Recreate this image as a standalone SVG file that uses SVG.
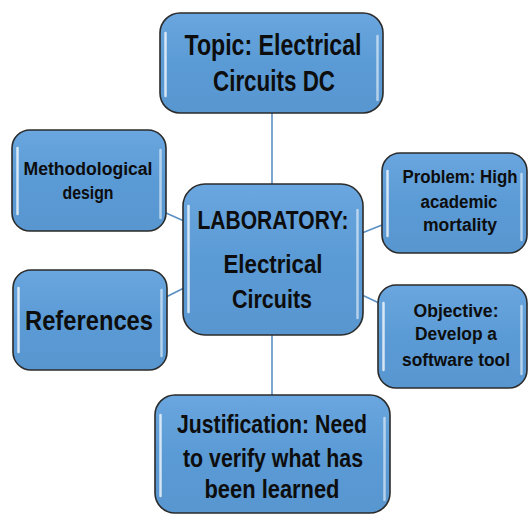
<svg xmlns="http://www.w3.org/2000/svg" width="528" height="514" viewBox="0 0 528 514">
  <style>
    .box { fill: url(#boxFill); stroke: #2b2b2b; stroke-width: 1.6; }
    .gloss { fill: none; stroke: #ffffff; stroke-opacity: 0.75; stroke-width: 2.5; stroke-linecap: round; }
    .gloss.r { stroke-opacity: 0.55; }
    .lbl { font-family: "Liberation Sans", Arial, sans-serif; font-weight: bold; fill: #0d0d0d; text-anchor: middle; }
    .edge { stroke: #5b8fc4; stroke-width: 1.6; fill: none; }
  </style>
  <defs>
    <linearGradient id="boxFill" x1="0" y1="0" x2="0" y2="1">
      <stop offset="0" stop-color="#6aa6df"/>
      <stop offset="0.5" stop-color="#5b9bd5"/>
      <stop offset="1" stop-color="#5896d0"/>
    </linearGradient>
  </defs>

  <!-- connectors -->
  <g id="connectors">
    <line class="edge" x1="272" y1="113" x2="272" y2="184"/>
    <line class="edge" x1="166" y1="213" x2="184" y2="221"/>
    <line class="edge" x1="166" y1="297" x2="184" y2="288"/>
    <line class="edge" x1="362" y1="233" x2="382" y2="225"/>
    <line class="edge" x1="362" y1="295" x2="379" y2="303"/>
    <line class="edge" x1="272" y1="335" x2="272" y2="395"/>
  </g>

  <!-- topic -->
  <g id="topic">
    <rect class="box" x="160" y="13" width="223" height="100" rx="20"/>
    <path class="gloss" d="M165.5 33 V96"/>
    <path class="gloss r" d="M377.5 36 V100"/>
    <text class="lbl" font-size="29" x="273" y="55" textLength="177" lengthAdjust="spacingAndGlyphs">Topic: Electrical</text>
    <text class="lbl" font-size="29" x="274" y="91" textLength="122" lengthAdjust="spacingAndGlyphs">Circuits DC</text>
  </g>

  <!-- methodological design -->
  <g id="method">
    <rect class="box" x="12" y="130" width="154" height="101" rx="18"/>
    <path class="gloss" d="M17.5 148 V214"/>
    <path class="gloss r" d="M160.5 150 V218"/>
    <text class="lbl" font-size="18" x="88" y="175" textLength="129" lengthAdjust="spacingAndGlyphs">Methodological</text>
    <text class="lbl" font-size="18" x="88" y="199" textLength="51" lengthAdjust="spacingAndGlyphs">design</text>
  </g>

  <!-- laboratory (centre) -->
  <g id="lab">
    <rect class="box" x="183" y="184" width="180" height="151" rx="22"/>
    <path class="gloss" d="M188.5 206 V312"/>
    <path class="gloss r" d="M357.5 210 V318"/>
    <text class="lbl" font-size="26" x="273" y="229" textLength="151" lengthAdjust="spacingAndGlyphs">LABORATORY:</text>
    <text class="lbl" font-size="26" x="273" y="273" textLength="99" lengthAdjust="spacingAndGlyphs">Electrical</text>
    <text class="lbl" font-size="26" x="272" y="308" textLength="80" lengthAdjust="spacingAndGlyphs">Circuits</text>
  </g>

  <!-- problem -->
  <g id="problem">
    <rect class="box" x="382" y="153" width="145" height="100" rx="18"/>
    <path class="gloss" d="M387.5 171 V236"/>
    <path class="gloss r" d="M521.5 174 V240"/>
    <text class="lbl" font-size="18" x="460" y="183" textLength="115" lengthAdjust="spacingAndGlyphs">Problem: High</text>
    <text class="lbl" font-size="18" x="459" y="208" textLength="77" lengthAdjust="spacingAndGlyphs">academic</text>
    <text class="lbl" font-size="18" x="460" y="231" textLength="74" lengthAdjust="spacingAndGlyphs">mortality</text>
  </g>

  <!-- references -->
  <g id="references">
    <rect class="box" x="13" y="270" width="154" height="100" rx="18"/>
    <path class="gloss" d="M18.5 288 V352"/>
    <path class="gloss r" d="M161.5 290 V356"/>
    <text class="lbl" font-size="27" x="89" y="330" textLength="128" lengthAdjust="spacingAndGlyphs">References</text>
  </g>

  <!-- objective -->
  <g id="objective">
    <rect class="box" x="378" y="285" width="149" height="103" rx="18"/>
    <path class="gloss" d="M383.5 303 V370"/>
    <path class="gloss r" d="M521.5 306 V374"/>
    <text class="lbl" font-size="18" x="456" y="317" textLength="85" lengthAdjust="spacingAndGlyphs">Objective:</text>
    <text class="lbl" font-size="18" x="456" y="340" textLength="82" lengthAdjust="spacingAndGlyphs">Develop a</text>
    <text class="lbl" font-size="18" x="456" y="366" textLength="108" lengthAdjust="spacingAndGlyphs">software tool</text>
  </g>

  <!-- justification -->
  <g id="justification">
    <rect class="box" x="155" y="395" width="235" height="118" rx="20"/>
    <path class="gloss" d="M160.5 415 V496"/>
    <path class="gloss r" d="M384.5 418 V500"/>
    <text class="lbl" font-size="25" x="272" y="433" textLength="190" lengthAdjust="spacingAndGlyphs">Justification: Need</text>
    <text class="lbl" font-size="25" x="273" y="467" textLength="180" lengthAdjust="spacingAndGlyphs">to verify what has</text>
    <text class="lbl" font-size="25" x="272" y="498" textLength="135" lengthAdjust="spacingAndGlyphs">been learned</text>
  </g>
</svg>
